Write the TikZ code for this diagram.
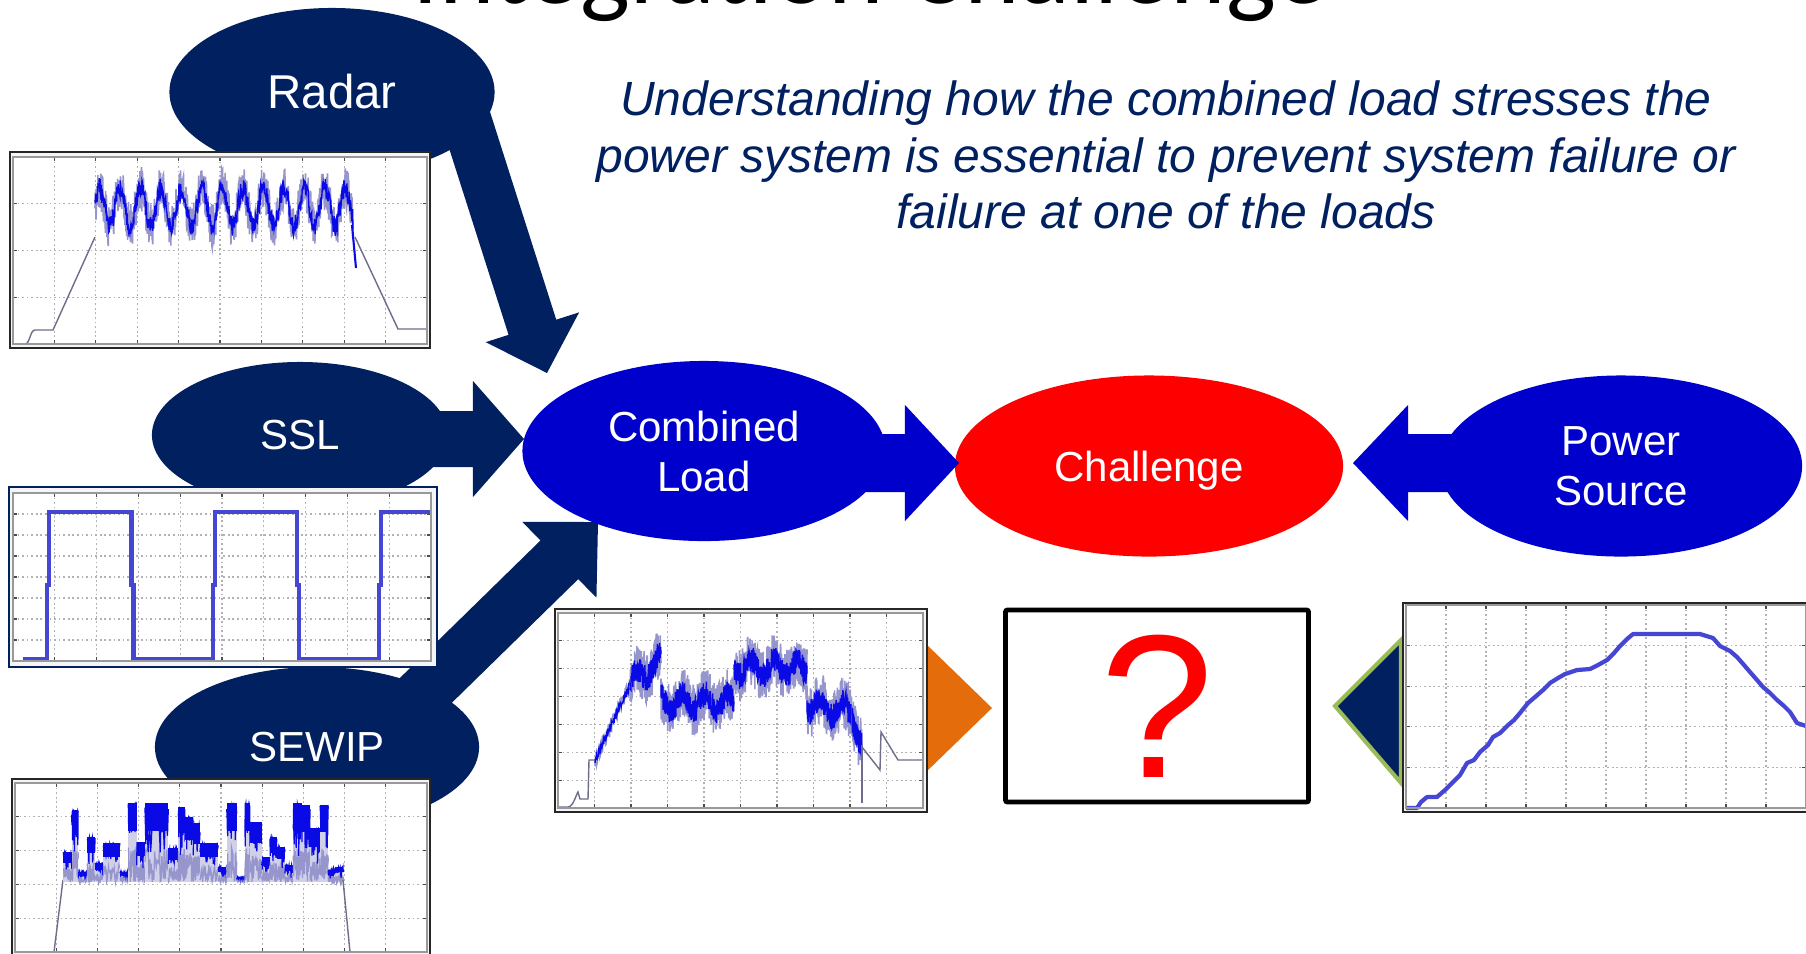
\documentclass[tikz,border=0pt]{standalone}
\usepackage{fontspec}
\setmainfont{Liberation Sans}
\newfontfamily\califont{Carlito}
\usetikzlibrary{calc,shapes.geometric}
\definecolor{navy}{RGB}{0,32,96}
\definecolor{lblue}{RGB}{0,0,204}
\definecolor{cred}{RGB}{255,0,0}
\definecolor{corange}{RGB}{228,108,10}
\definecolor{cgreen}{RGB}{155,187,89}
\definecolor{sigblue}{RGB}{10,10,230}
\definecolor{sigband}{RGB}{150,150,205}
\definecolor{siggray}{RGB}{110,110,140}
\definecolor{thickblue}{RGB}{70,70,212}
\newcommand\lblfont{\fontsize{11.95pt}{14.2pt}\selectfont}
% #1 style, #2 start, #3 tip, #4 half shaft, #5 half head, #6 head length
\newcommand\blockarrow[6]{%
  \fill[#1] let \p1=($(#3)-(#2)$), \n1={atan2(\y1,\x1)}, \p2=($(#3)!#6!(#2)$) in
    ($(#2)+({\n1+90}:#4)$) -- ($(\p2)+({\n1+90}:#4)$) -- ($(\p2)+({\n1+90}:#5)$) -- (#3)
    -- ($(\p2)+({\n1-90}:#5)$) -- ($(\p2)+({\n1-90}:#4)$) -- ($(#2)+({\n1-90}:#4)$) -- cycle;}
\newcommand\axesgrid[6]{%
  \fill[white] (#1,#2) rectangle (#3,#4);
  \foreach \i in {1,...,#5}{%
    \draw[gridl] ({#1+(#3-#1)*\i/#5},#2) -- ({#1+(#3-#1)*\i/#5},#4);
    \draw[tickl] ({#1+(#3-#1)*\i/#5},#2) -- ++(0,4) ({#1+(#3-#1)*\i/#5},#4) -- ++(0,-4);}
  \foreach \i in {1,...,#6}{%
    \draw[gridl] (#1,{#2+(#4-#2)*\i/#6}) -- (#3,{#2+(#4-#2)*\i/#6});
    \draw[tickl] (#1,{#2+(#4-#2)*\i/#6}) -- ++(4,0) (#3,{#2+(#4-#2)*\i/#6}) -- ++(-4,0);}
}
\begin{document}
\begin{tikzpicture}[x=0.01cm, y=-0.01cm,
  ell/.style={ellipse, inner sep=0pt, text=white, align=center, font=\lblfont},
  gridl/.style={gray!60, line width=0.3pt, dash pattern=on 0.5pt off 0.8pt},
  tickl/.style={black!70, line width=0.35pt},
  axisl/.style={black!40, line width=0.4pt},
  figframe/.style={fill=gray!8, draw=black!85, line width=0.45pt},
  band/.style={sigband, line width=0.45pt},
  core/.style={sigblue, line width=0.4pt},
  sgline/.style={siggray, line width=0.4pt},
  thicksig/.style={thickblue, line width=1.2pt, line join=round},
  subt/.style={anchor=base, inner sep=0pt, text=navy, font=\fontsize{13.65pt}{16pt}\selectfont\itshape}]
\useasboundingbox (0,0) rectangle (1806,953);
\clip (0,0) rectangle (1806,953);
\fill[white] (0,0) rectangle (1806,953);
\pgfmathsetseed{7}

% connector end points
\coordinate (radarS) at (452,75);  \coordinate (radarE) at (547,373);
\coordinate (sslS) at (300,439);   \coordinate (sslE) at (524,439);
\coordinate (sewS) at (370,745);   \coordinate (sewE) at (598,522);
\coordinate (combS) at (704,463);  \coordinate (combE) at (959,463);
\coordinate (powS) at (1621,463);  \coordinate (powE) at (1353,463);

% load arrows
\blockarrow{navy}{radarS}{radarE}{0.25cm}{0.49cm}{0.48cm}
\blockarrow{navy}{sslS}{sslE}{0.28cm}{0.58cm}{0.51cm}
\blockarrow{navy}{sewS}{sewE}{0.27cm}{0.53cm}{0.54cm}

% load ellipses
\node[ell, fill=navy, minimum width=3.25cm, minimum height=1.68cm, font=\fontsize{13.5pt}{16pt}\selectfont] (radar) at (332,92) {Radar};
\node[ell, fill=navy, minimum width=2.96cm, minimum height=1.46cm] (ssl) at (300,435) {SSL};
\node[ell, fill=navy, minimum width=3.24cm, minimum height=1.60cm] (sewip) at (317,747) {SEWIP};

% challenge chain
\node[ell, fill=cred, minimum width=3.88cm, minimum height=1.81cm, text depth=0pt] (chal) at (1149,466) {Challenge};
\blockarrow{lblue}{combS}{combE}{0.29cm}{0.58cm}{0.54cm}
\node[ell, fill=lblue, minimum width=3.63cm, minimum height=1.80cm] (comb) at (704,451) {Combined\\Load};
\blockarrow{lblue}{powS}{powE}{0.29cm}{0.58cm}{0.55cm}
\node[ell, fill=lblue, minimum width=3.62cm, minimum height=1.81cm] (pow) at (1621,466) {Power\\Source};

% small pointers
\fill[corange] (925,643) -- (992,708) -- (925,773) -- cycle;
\filldraw[fill=navy, draw=cgreen, line width=1.15pt, line join=miter] (1401,640) -- (1335,706) -- (1401,783) -- cycle;

% ---- Radar plot
\filldraw[figframe] (10,152) rectangle (430,348);
\axesgrid{13}{157}{427}{344}{10}{4}
\draw[sgline] (13,344) -- (25,344) .. controls (30,344) and (30,330) .. (35,330) -- (53,330) -- (95,237);
\draw[band] plot[domain=95:353, samples=800] (\x,{207-19*cos(17.56*(\x-120))+22*rand});
\draw[core] plot[domain=95:353, samples=600] (\x,{207-19*cos(17.56*(\x-120))+10*rand});
\draw[core, line width=0.6pt] (352,225) -- (356,268);
\draw[sgline] (355,237) -- (398,329) -- (427,329);
\draw[axisl] (13,157) rectangle (427,344);

% ---- SSL plot
\filldraw[figframe, draw=navy, line width=0.8pt] (9,487) rectangle (437,667);
\axesgrid{13}{493}{431}{661}{10}{8}
\draw[thicksig, line join=miter] (23,659) -- (47,659) -- (47,585) -- (49,585) -- (49,512) -- (131.5,512) -- (131.5,585) -- (133.5,585) -- (133.5,659) -- (213,659) -- (213,585) -- (215,585) -- (215,512) -- (297,512) -- (297,585) -- (299,585) -- (299,659) -- (379,659) -- (379,585) -- (381,585) -- (381,512) -- (430,512);
\draw[axisl] (13,493) rectangle (431,661);

% ---- SEWIP plot
\filldraw[figframe] (12,779) rectangle (430,962);
\axesgrid{15}{783}{427}{952}{10}{5}
\draw[sgline] (15,952) -- (54,952) -- (63,880);
\foreach \xa/\xb/\tp in {63.3/71.7/852, 71.7/78.3/810, 78.3/87.3/872, 87.3/95/837, 95/103.3/863,
   103.3/120/843, 120/128.3/872, 128.3/136.7/803, 136.7/145/842, 145/168.3/803, 168.3/178.3/848,
   178.3/185/807, 185/193.3/817, 193.3/200/823, 200/218.3/843, 218.3/226.7/867, 226.7/236.7/803,
   236.7/245/877, 245/250/803, 250/261.7/822, 261.7/270/857, 270/276.7/837, 276.7/285/847,
   285/293.3/865, 293.3/301.7/803, 301.7/310/805, 310/320/828, 320/328.3/805, 328.3/335/870, 335/343.3/867}{
  \fill[sigband!45] (\xa,\tp) rectangle (\xb,882);
  \fill[sigblue] (\xa,\tp) rectangle (\xb,{\tp+0.35*(882-\tp)});
  \draw[band, line width=0.35pt] plot[domain=\xa:\xb, samples=30] (\x,{\tp+(882-\tp)*(0.55+0.45*rnd)});
  \draw[core, line width=0.35pt] plot[domain=\xa:\xb, samples=30] (\x,{\tp+(882-\tp)*0.75*rnd*rnd});
}
\draw[sgline] (343,880) -- (350,952) -- (427,952);
\draw[axisl] (15,783) rectangle (427,952);

% ---- Combined plot
\filldraw[figframe] (555,609) rectangle (927,812);
\axesgrid{558}{613}{923}{808}{10}{7}
\draw[sgline] (558,807) -- (568,807) .. controls (573,807) and (576,795) .. (578,792) -- (580,799) -- (588,799) -- (589,760) -- (595,760);
\draw[band] plot[domain=595:630, samples=90] (\x,{760-75*(\x-595)/35+8*rand});
\draw[core] plot[domain=595:630, samples=80] (\x,{760-75*(\x-595)/35+4*rand});
\foreach \xa/\ya/\xb/\yb/\ns in {630/682/661/660/140, 661/702/734/702/320, 734/668/807/668/320, 807/704/852/712/200, 852/712/862/748/50}{
  \draw[band] plot[domain=\xa:\xb, samples=\ns] (\x,{\ya+(\yb-\ya)*(\x-\xa)/(\xb-\xa)+8*sin(15.65*(\x-550))+26*rand});
  \draw[core] plot[domain=\xa:\xb, samples=\ns] (\x,{\ya+(\yb-\ya)*(\x-\xa)/(\xb-\xa)+8*sin(15.65*(\x-550))+13*rand});
}
\draw[sgline] (862,745) -- (862,803);
\draw[sgline] (862,747) -- (880,770) -- (881,732) -- (898,760) -- (923,760);
\draw[axisl] (558,613) rectangle (923,808);

% ---- Power plot
\filldraw[figframe] (1403,603) rectangle (1815,812);
\axesgrid{1406}{605}{1806}{808}{10}{5}
\draw[thicksig] (1406,808) -- (1417,808) -- (1421,802) -- (1427,797) -- (1437,797) -- (1445,790) -- (1452,783) -- (1460,775) -- (1467,763) -- (1474,760) -- (1480,752) -- (1488,745) -- (1493,737) -- (1500,733) -- (1507,726) -- (1514,720) -- (1520,713) -- (1528,703) -- (1535,697) -- (1543,690) -- (1550,683) -- (1558,678) -- (1565,674) -- (1577,670) -- (1590,669) -- (1598,665) -- (1607,660) -- (1614,653) -- (1620,646) -- (1627,639) -- (1633,634) -- (1700,634) -- (1713,638) -- (1720,646) -- (1730,651) -- (1737,657) -- (1744,665) -- (1750,672) -- (1757,680) -- (1763,687) -- (1770,693) -- (1777,700) -- (1784,706) -- (1790,712) -- (1797,723) -- (1806,726);
\draw[axisl] (1406,605) rectangle (1806,808);

% question box
\node[draw=black, line width=1.34pt, rounded corners=0.6pt, minimum width=3.03cm, minimum height=1.92cm, inner sep=0pt, text=cred, font=\fontsize{58pt}{60pt}\selectfont] (q) at (1157,706) {?};

% texts
\node[anchor=base west, inner sep=0pt, font=\califont\fontsize{30pt}{36pt}\selectfont] (title) at (412,3) {Integration Challenge};
\node[subt] (sub1) at (1166,115) {Understanding how the combined load stresses the};
\node[subt] (sub2) at (1166,172) {power system is essential to prevent system failure or};
\node[subt] (sub3) at (1166,228) {failure at one of the loads};
\end{tikzpicture}
\end{document}
